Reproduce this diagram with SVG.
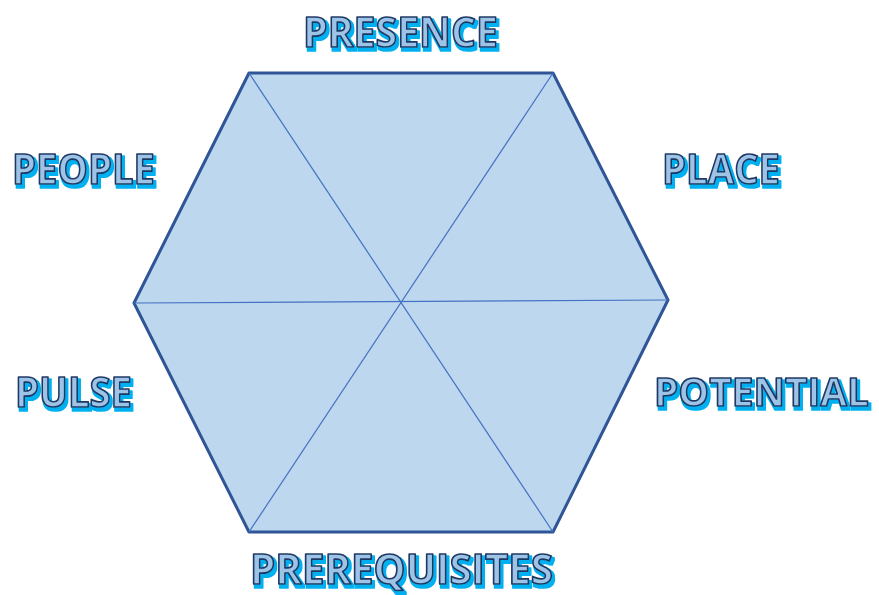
<svg xmlns="http://www.w3.org/2000/svg" width="879" height="595" viewBox="0 0 879 595">
<defs>
<filter id="shadow" x="-5%" y="-20%" width="115%" height="150%">
<feMorphology in="SourceAlpha" operator="dilate" radius="0.6" result="d"/>
<feOffset in="d" dx="2" dy="3" result="o"/>
<feFlood flood-color="#00B0F0"/>
<feComposite in2="o" operator="in" result="s"/>
<feMerge><feMergeNode in="s"/><feMergeNode in="SourceGraphic"/></feMerge>
</filter>
<filter id="shadowR" x="-2%" y="-20%" width="104%" height="150%">
<feMorphology in="SourceAlpha" operator="dilate" radius="0.6" result="d"/>
<feOffset in="d" dx="2" dy="3" result="o"/>
<feFlood flood-color="#00B0F0"/>
<feComposite in2="o" operator="in" result="s"/>
<feMerge><feMergeNode in="s"/><feMergeNode in="SourceGraphic"/></feMerge>
</filter>
</defs>
<style>
.lbl{font-family:"Open Sans","Liberation Sans",sans-serif;font-weight:bold;font-size:42px;fill:#9DC3E6;stroke:#1F3864;stroke-width:1.7;stroke-linejoin:round;filter:url(#shadow)}
.lbl.r{font-size:40px;filter:url(#shadowR)}
.hex{fill:#BDD7EE;stroke:#2F5597;stroke-width:3;stroke-linejoin:round}
.div{stroke:#4472C4;stroke-width:1.2;fill:none}
</style>
<rect width="879" height="595" fill="#FFFFFF"/>
<g id="hexagon">
<polygon class="hex" points="249,73 553,73 668,300 553,532 249,532 134,303"/>
</g>
<g id="connectors">
<line class="div" x1="249" y1="73" x2="553" y2="532"/>
<line class="div" x1="553" y1="73" x2="249" y2="532"/>
<line class="div" x1="134" y1="303" x2="668" y2="300"/>
</g>
<g id="presence">
<text class="lbl" x="303" y="47" textLength="195" lengthAdjust="spacingAndGlyphs">PRESENCE</text>
</g>
<g id="people">
<text class="lbl" x="12" y="184" textLength="143" lengthAdjust="spacingAndGlyphs">PEOPLE</text>
</g>
<g id="place">
<text class="lbl" x="662" y="184" textLength="118" lengthAdjust="spacingAndGlyphs">PLACE</text>
</g>
<g id="pulse">
<text class="lbl" x="15" y="407" textLength="117" lengthAdjust="spacingAndGlyphs">PULSE</text>
</g>
<g id="potential">
<text class="lbl r" x="654" y="406" textLength="215" lengthAdjust="spacingAndGlyphs">POTENTIAL</text>
</g>
<g id="prerequisites">
<text class="lbl" x="250" y="584" textLength="303" lengthAdjust="spacingAndGlyphs">PREREQUISITES</text>
</g>
</svg>
